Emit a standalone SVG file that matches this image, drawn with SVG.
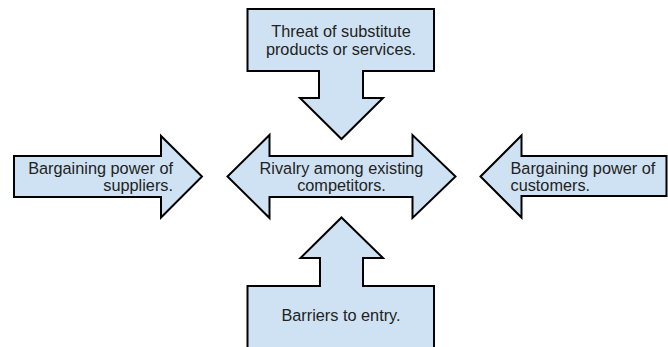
<svg xmlns="http://www.w3.org/2000/svg" width="668" height="347" viewBox="0 0 668 347">
<style>
.shape{fill:#cfe2f3;stroke:#000;stroke-width:2;stroke-linejoin:miter}
.t{font-family:"Liberation Sans",Arial,sans-serif;font-size:16.3px;fill:#222}
.c{text-anchor:middle}
.r{text-anchor:end}
</style>
<rect width="668" height="347" fill="#fff"/>
<g id="threat">
<path class="shape" d="M247.5,9 H434 V71 H363 V98 H383 L341.5,139 L300,98 H319 V71 H247.5 Z"/>
<text class="t c" x="341" y="37">Threat of substitute</text>
<text class="t c" x="341" y="55">products or services.</text>
</g>
<g id="suppliers">
<path class="shape" d="M14,156 H161 V136 L202,176.5 L161,217.5 V197 H14 Z"/>
<text class="t r" x="173" y="173.5">Bargaining power of</text>
<text class="t r" x="173" y="191">suppliers.</text>
</g>
<g id="rivalry">
<path class="shape" d="M227.5,176.5 L269.5,135 V156 H412.5 V135 L455.5,176.5 L412.5,218 V197 H269.5 V218 Z"/>
<text class="t c" x="341.5" y="173.5">Rivalry among existing</text>
<text class="t c" x="341.5" y="191">competitors.</text>
</g>
<g id="customers">
<path class="shape" d="M480.5,176.5 L521.5,135.5 V156 H666.5 V196 H521.5 V217.5 Z"/>
<text class="t" x="510.5" y="173.5">Bargaining power of</text>
<text class="t" x="510.5" y="191">customers.</text>
</g>
<g id="barriers">
<path class="shape" d="M341.5,217.5 L383,258 H363 V286 H434 V352 H247.5 V286 H320 V258 H300.5 Z"/>
<text class="t c" x="341" y="320.7">Barriers to entry.</text>
</g>
<g id="connectors"></g>
</svg>
